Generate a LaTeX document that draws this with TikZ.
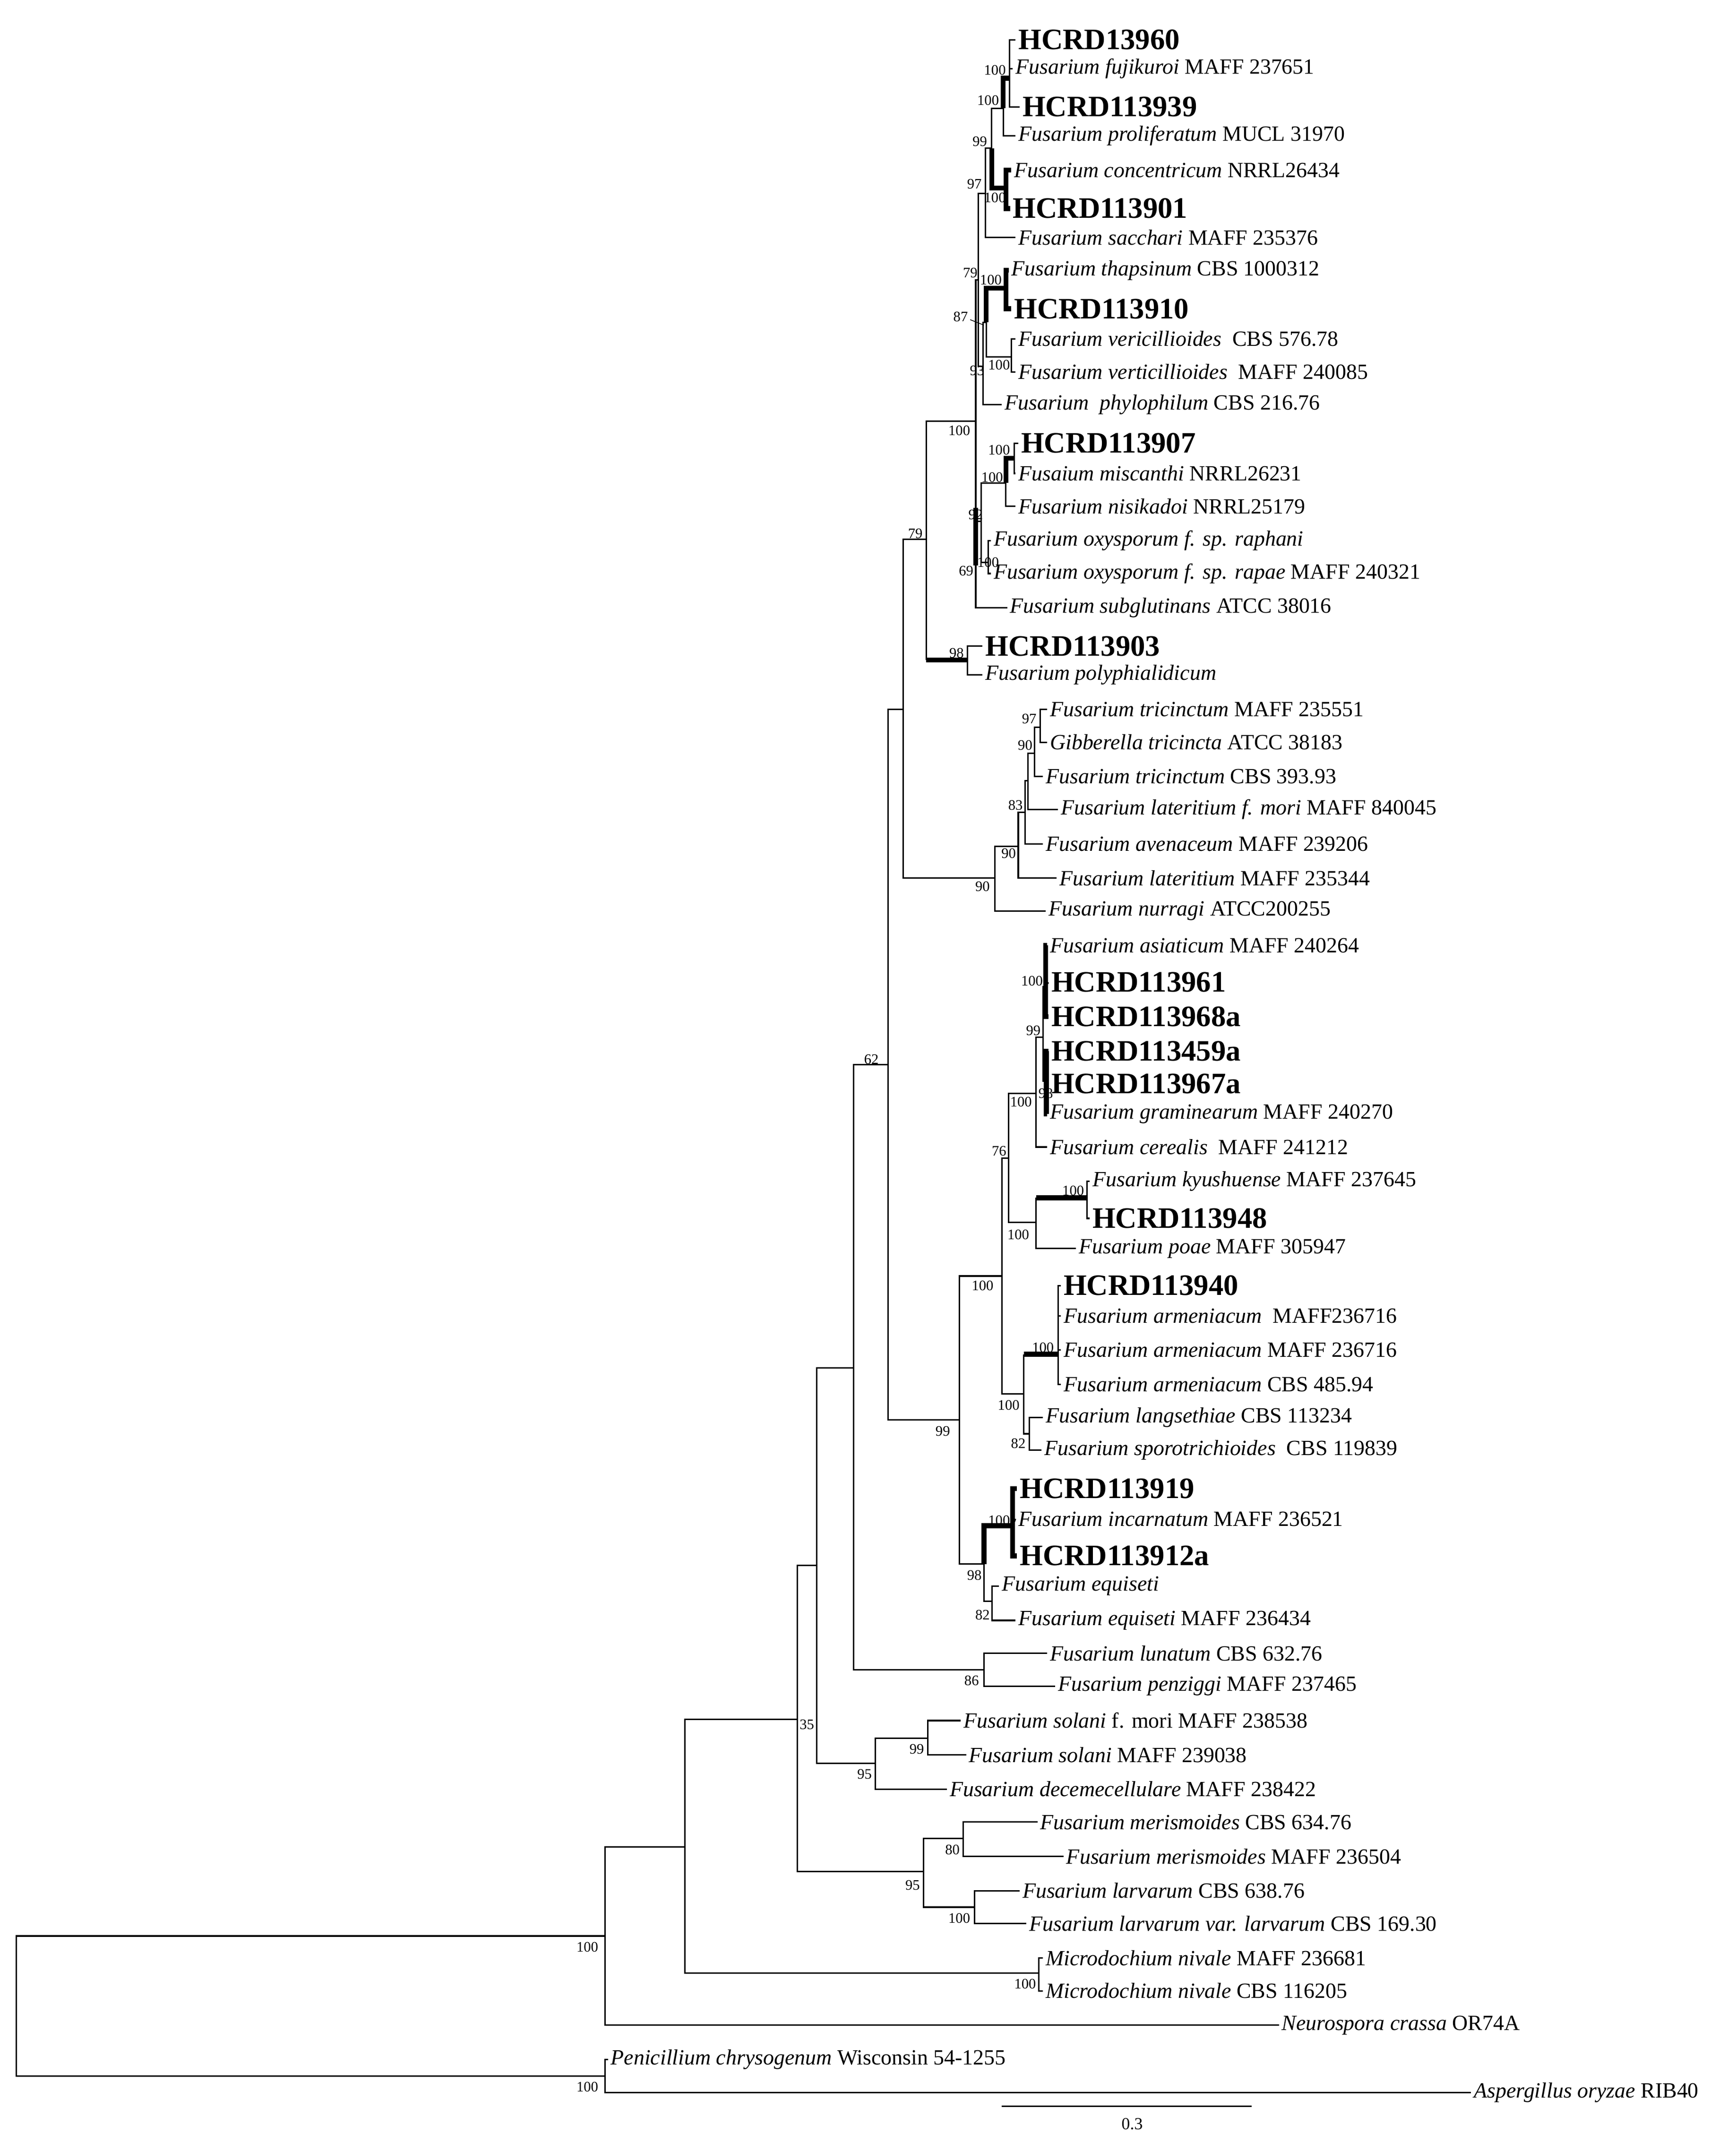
\documentclass[tikz,border=0pt]{standalone}
\usepackage{fontspec}
\setmainfont{Liberation Serif}
\usepackage{tikz}
\usetikzlibrary{positioning}

\newcommand{\tx}[2]{{\itshape #1} #2}

\begin{document}
\begin{tikzpicture}[
    x=0.02cm, y=-0.02cm,
    br/.style={line width=0.6pt},
    thk/.style={line width=2pt},
    leaf/.style={anchor=west, inner sep=1pt, font=\fontsize{9}{10}\selectfont},
    hc/.style={leaf, font=\bfseries\fontsize{12.3}{13}\selectfont},
    bs/.style={inner sep=0pt, font=\fontsize{6}{6}\selectfont}
    ]
    \useasboundingbox (0,0) rectangle (1265,1567);

    % leaves
    \node[hc]   (l1)  at (740,29)  {HCRD13960};
    \node[leaf] (l2)  at (738,50)  {\tx{Fusarium fujikuroi}{MAFF 237651}};
    \node[hc]   (l3)  at (743,78)  {HCRD113939};
    \node[leaf] (l4)  at (740,99)  {\tx{Fusarium proliferatum}{MUCL 31970}};
    \node[leaf] (l5)  at (737,124) {\tx{Fusarium concentricum}{NRRL26434}};
    \node[hc]   (l6)  at (736,152) {HCRD113901};
    \node[leaf] (l7)  at (740,173) {\tx{Fusarium sacchari}{MAFF 235376}};
    \node[leaf] (l8)  at (735,197) {\tx{Fusarium thapsinum}{CBS 1000312}};
    \node[hc]   (l9)  at (737,225) {HCRD113910};
    \node[leaf] (l10) at (740,247) {\tx{Fusarium vericillioides}{ CBS 576.78}};
    \node[leaf] (l11) at (740,271) {\tx{Fusarium verticillioides}{ MAFF 240085}};
    \node[leaf] (l12) at (730,295) {\tx{Fusarium \ phylophilum}{CBS 216.76}};
    \node[hc]   (l13) at (742,323) {HCRD113907};
    \node[leaf] (l14) at (740,345) {\tx{Fusaium miscanthi}{NRRL26231}};
    \node[leaf] (l15) at (740,369) {\tx{Fusarium nisikadoi}{NRRL25179}};
    \node[leaf] (l16) at (722,394) {\tx{Fusarium oxysporum f. sp. raphani}{}};
    \node[leaf] (l17) at (722,418) {\tx{Fusarium oxysporum f. sp. rapae}{MAFF 240321}};
    \node[leaf] (l18) at (734,443) {\tx{Fusarium subglutinans}{ATCC 38016}};
    \node[hc]   (l19) at (716,471) {HCRD113903};
    \node[leaf] (l20) at (716,492) {\tx{Fusarium polyphialidicum}{}};
    \node[leaf] (l21) at (763,517) {\tx{Fusarium tricinctum}{MAFF 235551}};
    \node[leaf] (l22) at (763,541) {\tx{Gibberella tricincta}{ATCC 38183}};
    \node[leaf] (l23) at (760,566) {\tx{Fusarium tricinctum}{CBS 393.93}};
    \node[leaf] (l24) at (771,590) {\tx{Fusarium lateritium f. mori}{MAFF 840045}};
    \node[leaf] (l25) at (760,615) {\tx{Fusarium avenaceum}{MAFF 239206}};
    \node[leaf] (l26) at (770,640) {\tx{Fusarium lateritium}{MAFF 235344}};
    \node[leaf] (l27) at (762,664) {\tx{Fusarium nurragi}{ATCC200255}};
    \node[leaf] (l28) at (763,689) {\tx{Fusarium asiaticum}{MAFF 240264}};
    \node[hc]   (l29) at (764,716) {HCRD113961};
    \node[hc]   (l30) at (764,741) {HCRD113968a};
    \node[hc]   (l31) at (764,766) {HCRD113459a};
    \node[hc]   (l32) at (764,790) {HCRD113967a};
    \node[leaf] (l33) at (763,812) {\tx{Fusarium graminearum}{MAFF 240270}};
    \node[leaf] (l34) at (763,836) {\tx{Fusarium cerealis}{ MAFF 241212}};
    \node[leaf] (l35) at (794,861) {\tx{Fusarium kyushuense}{MAFF 237645}};
    \node[hc]   (l36) at (794,888) {HCRD113948};
    \node[leaf] (l37) at (784,910) {\tx{Fusarium poae}{MAFF 305947}};
    \node[hc]   (l38) at (773,937) {HCRD113940};
    \node[leaf] (l39) at (773,959) {\tx{Fusarium armeniacum}{ MAFF236716}};
    \node[leaf] (l40) at (773,984) {\tx{Fusarium armeniacum}{MAFF 236716}};
    \node[leaf] (l41) at (773,1009) {\tx{Fusarium armeniacum}{CBS 485.94}};
    \node[leaf] (l42) at (760,1033) {\tx{Fusarium langsethiae}{CBS 113234}};
    \node[leaf] (l43) at (759,1057) {\tx{Fusarium sporotrichioides}{ CBS 119839}};
    \node[hc]   (l44) at (741,1085) {HCRD113919};
    \node[leaf] (l45) at (740,1107) {\tx{Fusarium incarnatum}{MAFF 236521}};
    \node[hc]   (l46) at (741,1134) {HCRD113912a};
    \node[leaf] (l47) at (728,1156) {\tx{Fusarium equiseti}{}};
    \node[leaf] (l48) at (740,1181) {\tx{Fusarium equiseti}{MAFF 236434}};
    \node[leaf] (l49) at (763,1205) {\tx{Fusarium lunatum}{CBS 632.76}};
    \node[leaf] (l50) at (769,1229) {\tx{Fusarium penziggi}{MAFF 237465}};
    \node[leaf] (l51) at (700,1254) {\tx{Fusarium solani}{f. mori MAFF 238538}};
    \node[leaf] (l52) at (704,1279) {\tx{Fusarium solani}{MAFF 239038}};
    \node[leaf] (l53) at (690,1304) {\tx{Fusarium decemecellulare}{MAFF 238422}};
    \node[leaf] (l54) at (756,1328) {\tx{Fusarium merismoides}{CBS 634.76}};
    \node[leaf] (l55) at (775,1353) {\tx{Fusarium merismoides}{MAFF 236504}};
    \node[leaf] (l56) at (743,1378) {\tx{Fusarium larvarum}{CBS 638.76}};
    \node[leaf] (l57) at (748,1402) {\tx{Fusarium larvarum var. larvarum}{CBS 169.30}};
    \node[leaf] (l58) at (760,1427) {\tx{Microdochium nivale}{MAFF 236681}};
    \node[leaf] (l59) at (760,1451) {\tx{Microdochium nivale}{CBS 116205}};
    \node[leaf] (l60) at (932,1476) {\tx{Neurospora crassa}{OR74A}};
    \node[leaf] (l61) at (443,1501) {\tx{Penicillium chrysogenum}{Wisconsin 54-1255}};
    \node[leaf] (l62) at (1072,1525) {\tx{Aspergillus oryzae}{RIB40}};

    % internal nodes
    \coordinate (R)  at (12,1462);   \coordinate (O)  at (441,1513);
    \coordinate (I)  at (441,1411);  \coordinate (A)  at (499,1346);
    \coordinate (M)  at (757,1438);  \coordinate (B)  at (581,1253);
    \coordinate (L)  at (673,1364);  \coordinate (L1) at (702,1340);
    \coordinate (L2) at (710,1390);  \coordinate (C)  at (595,1141);
    \coordinate (S)  at (638,1285);  \coordinate (S1) at (676,1267);
    \coordinate (D)  at (622,997);   \coordinate (LP) at (717,1217);
    \coordinate (E)  at (647,776);   \coordinate (G)  at (699,1035);
    \coordinate (Q)  at (717,1140);  \coordinate (Q1) at (738,1112);
    \coordinate (Q2) at (723,1167);  \coordinate (H)  at (730,930);
    \coordinate (K)  at (746,1016);  \coordinate (K1) at (771,987);
    \coordinate (K2) at (750,1045);  \coordinate (J)  at (735,844);
    \coordinate (J1) at (755,797);   \coordinate (J2) at (755,891);
    \coordinate (J3) at (792,873);   \coordinate (J4) at (760,756);
    \coordinate (J5) at (762,719);   \coordinate (J6) at (762.5,788);
    \coordinate (F)  at (658,517);   \coordinate (U)  at (725,640);
    \coordinate (U1) at (742,617);   \coordinate (U2) at (747,592);
    \coordinate (U3) at (749,569);   \coordinate (U4) at (754,549);
    \coordinate (U5) at (758,530);   \coordinate (T)  at (675,393);
    \coordinate (V)  at (705,481);   \coordinate (P)  at (711,307);
    \coordinate (W)  at (715,380);   \coordinate (W1) at (733,352);
    \coordinate (W2) at (720,410);   \coordinate (W3) at (739,334);
    \coordinate (N97) at (713,204);  \coordinate (N87) at (716.5,267);
    \coordinate (N93) at (718.6,235); \coordinate (X1) at (733,210);
    \coordinate (X2) at (737,260);   \coordinate (N99) at (718,141);
    \coordinate (Y)  at (722.6,108); \coordinate (Y1) at (731,79);
    \coordinate (Y2) at (733,137);   \coordinate (Y3) at (735.5,57);

    % branches
    \draw[br] (R) |- (I); \draw[br] (R) |- (O);
    \draw[br] (O) |- (l61.west); \draw[br] (O) |- (l62.west);
    \draw[br] (I) |- (A); \draw[br] (I) |- (l60.west);
    \draw[br] (A) |- (B); \draw[br] (A) |- (M);
    \draw[br] (M) |- (l58.west); \draw[br] (M) |- (l59.west);
    \draw[br] (B) |- (C); \draw[br] (B) |- (L);
    \draw[br] (L) |- (L1); \draw[br] (L) |- (L2);
    \draw[br] (L1) |- (l54.west); \draw[br] (L1) |- (l55.west);
    \draw[br] (L2) |- (l56.west); \draw[br] (L2) |- (l57.west);
    \draw[br] (C) |- (D); \draw[br] (C) |- (S);
    \draw[br] (S) |- (S1); \draw[br] (S) |- (l53.west);
    \draw[br] (S1) |- (l51.west); \draw[br] (S1) |- (l52.west);
    \draw[br] (D) |- (E); \draw[br] (D) |- (LP);
    \draw[br] (LP) |- (l49.west); \draw[br] (LP) |- (l50.west);
    \draw[br] (E) |- (F); \draw[br] (E) |- (G);
    \draw[br] (G) |- (H); \draw[br] (G) |- (Q);
    \draw[thk] (Q) |- (Q1); \draw[br] (Q) |- (Q2);
    \draw[thk] (Q1) |- (l44.west); \draw[thk] (Q1) |- (l46.west);
    \draw[br] (Q1) -- (l45.west);
    \draw[br] (Q2) |- (l47.west); \draw[br] (Q2) |- (l48.west);
    \draw[br] (H) |- (J); \draw[br] (H) |- (K);
    \draw[br] (K) |- (K2); \draw[br] (K) -- (K|-K1);
    \draw[thk] (K|-K1) -- (K1);
    \draw[br] (K1) |- (l38.west); \draw[br] (K1) |- (l41.west);
    \draw[br] (K1) |- (l39.west); \draw[br] (K1) |- (l40.west);
    \draw[br] (K2) |- (l42.west); \draw[br] (K2) |- (l43.west);
    \draw[br] (J) |- (J1); \draw[br] (J) |- (J2);
    \draw[br] (J2) |- (l37.west); \draw[br] (J2) -- (J2|-J3);
    \draw[thk] (J2|-J3) -- (J3);
    \draw[br] (J3) |- (l35.west); \draw[br] (J3) |- (l36.west);
    \draw[br] (J1) |- (J4); \draw[br] (J1) |- (l34.west);
    \draw[br] (J4) |- (J5); \draw[br] (J4) |- (J6);
    \draw[thk] (J5) |- (l28.west); \draw[thk] (J5) |- (l30.west);
    \draw[br] (J5) -- (l29.west);
    \draw[thk] (J6) |- (l31.west); \draw[thk] (J6) |- (l33.west);
    \draw[br] (J6) |- (l32.west);
    \draw[br] (F) |- (T); \draw[br] (F) |- (U);
    \draw[br] (U) |- (U1); \draw[br] (U) |- (l27.west);
    \draw[br] (U1) |- (U2); \draw[br] (U1) |- (l26.west);
    \draw[br] (U2) |- (U3); \draw[br] (U2) |- (l25.west);
    \draw[br] (U3) |- (U4); \draw[br] (U3) |- (l24.west);
    \draw[br] (U4) |- (U5); \draw[br] (U4) |- (l23.west);
    \draw[br] (U5) |- (l21.west); \draw[br] (U5) |- (l22.west);
    \draw[br] (T) |- (P); \draw[br] (T) -- (T|-V);
    \draw[thk] (T|-V) -- (V);
    \draw[br] (V) |- (l19.west); \draw[br] (V) |- (l20.west);
    \draw[br] (P) |- (N97); \draw[br] (P) |- (l18.west);
    \draw[thk] (711,370) -- (711,412); \draw[br] (P|-W) -- (W);
    \draw[br] (W) |- (W1); \draw[br] (W) |- (W2);
    \draw[br] (W1) |- (l15.west); \draw[thk] (W1) |- (W3);
    \draw[br] (W3) |- (l13.west); \draw[br] (W3) |- (l14.west);
    \draw[br] (W2) |- (l16.west); \draw[br] (W2) |- (l17.west);
    \draw[br] (N97) |- (N99); \draw[br] (N97) |- (N87);
    \draw[br] (N87) |- (N93); \draw[br] (N87) |- (l12.west);
    \draw[thk] (N93) |- (X1); \draw[br] (N93) |- (X2);
    \draw[thk] (X1) |- (l8.west); \draw[thk] (X1) |- (l9.west);
    \draw[br] (X2) |- (l10.west); \draw[br] (X2) |- (l11.west);
    \draw[br] (N99) |- (Y); \draw[br] (N99) |- (l7.west);
    \draw[br] (Y) |- (Y1); \draw[thk] (Y) |- (Y2);
    \draw[thk] (Y2) |- (l5.west); \draw[thk] (Y2) |- (l6.west);
    \draw[thk] (Y1) |- (Y3); \draw[br] (Y1) |- (l4.west);
    \draw[br] (Y3) |- (l1.west); \draw[br] (Y3) |- (l3.west);
    \draw[br] (Y3) |- (l2.west);

    % bootstrap values
    \foreach \v/\x/\y in {100/725/51, 100/720/73, 99/714/103, 97/710/134,
        100/725/144, 79/707/199, 100/722/204, 87/700/231, 93/712/270,
        100/728/266, 100/699/314, 100/728/328, 100/723/348, 92/711/375,
        100/720/410, 69/704/416, 79/667/389, 98/697/476, 97/750/524,
        90/747/543, 83/740/587, 90/735/622, 90/716/646, 100/752/715,
        99/753/751, 98/762/797, 100/744/803, 76/728/839, 100/782/868,
        100/742/900, 100/716/937, 100/760/982, 100/735/1024, 82/742/1052,
        99/687/1043, 100/728/1108, 98/710/1148, 82/716/1177, 86/708/1225,
        99/668/1275, 95/630/1293, 80/694/1348, 95/665/1374, 100/699/1398,
        100/747/1446, 62/635/772, 35/588/1257, 100/428/1419, 100/428/1521}
      \node[bs] at (\x,\y) {\v};
    \draw[line width=0.3pt] (707,233) -- (717,237);

    % scale bar
    \coordinate (s0) at (730,1535);
    \coordinate (s1) at (912,1535);
    \draw[br] (s0) -- (s1);
    \node[bs, font=\fontsize{7}{7}\selectfont] (sl) at (825,1548) {0.3};
\end{tikzpicture}
\end{document}
